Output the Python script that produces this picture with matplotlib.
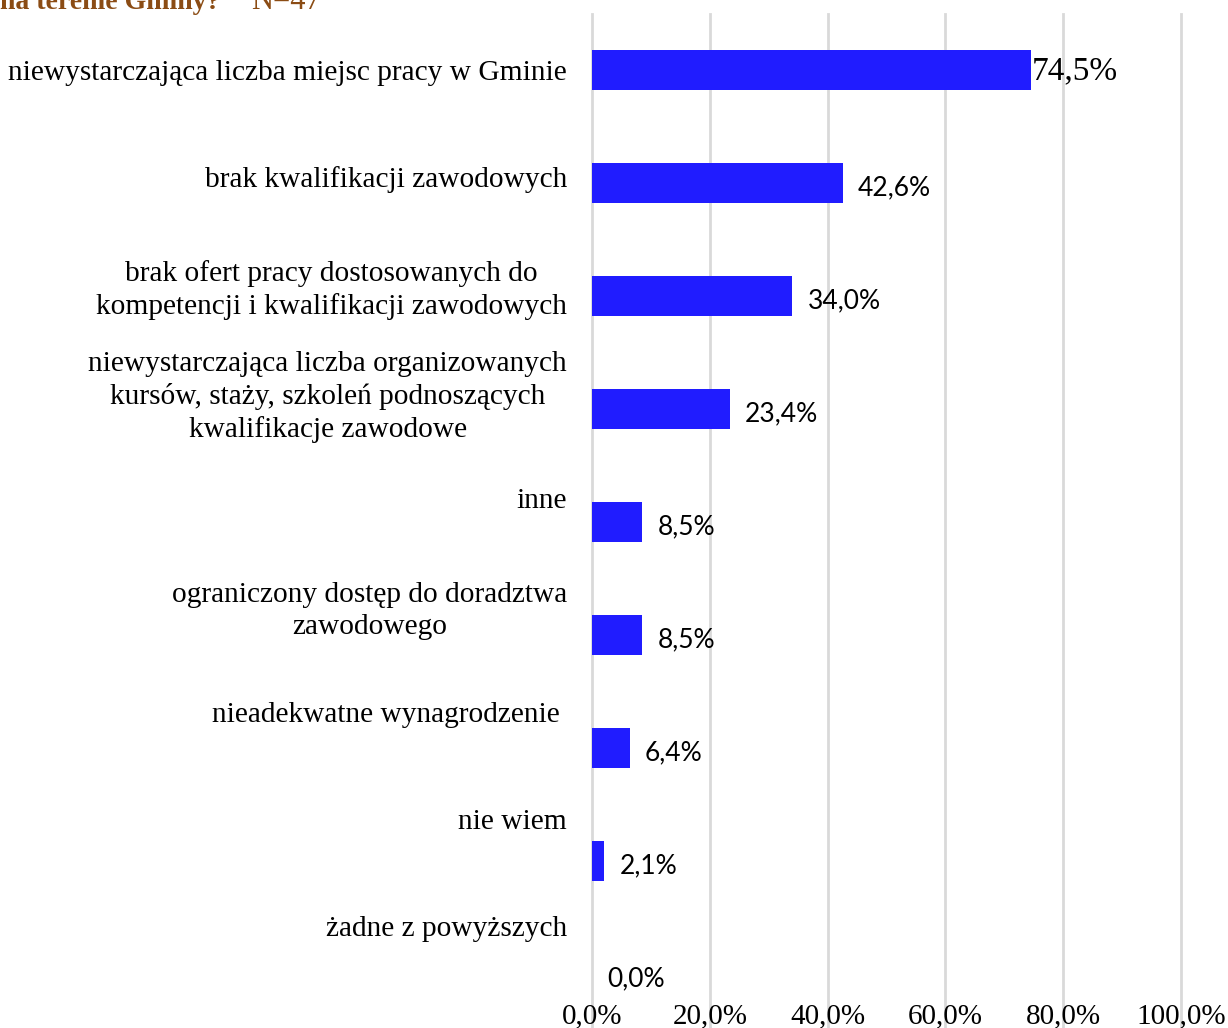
import matplotlib
matplotlib.use("Agg")
import matplotlib.pyplot as plt
import numpy as np

# dane z wykresu (N=47)
kategorie = [
    "niewystarczająca liczba miejsc pracy w Gminie",
    "brak kwalifikacji zawodowych",
    "brak ofert pracy dostosowanych do\nkompetencji i kwalifikacji zawodowych",
    "niewystarczająca liczba organizowanych\nkursów, staży, szkoleń podnoszących\nkwalifikacje zawodowe",
    "inne",
    "ograniczony dostęp do doradztwa\nzawodowego",
    "nieadekwatne wynagrodzenie ",
    "nie wiem",
    "żadne z powyższych",
]
wartosci = [74.5, 42.6, 34.0, 23.4, 8.5, 8.5, 6.4, 2.1, 0.0]
ticki_x = [0, 20, 40, 60, 80, 100]

KOLOR = "#201cff"
SERIF = "Liberation Serif"
SANS = "Lato"

fig = plt.figure(figsize=(12.28, 10.28), dpi=100)
ax = fig.add_axes([592 / 1228, 0, 589 / 1228, 1014 / 1028])

y = np.arange(len(kategorie))
ax.barh(y, wartosci, height=0.354, color=KOLOR, zorder=3)

ax.set_xlim(0, 100)
ax.set_ylim((1028 - 70) / 113, (14 - 70) / 113)

# siatka pionowa
ax.set_xticks(ticki_x)
ax.set_xticklabels([f"{t:.1f}%".replace(".", ",") for t in ticki_x],
                   fontfamily=SERIF, fontsize=21)
ax.grid(axis="x", color="#d9d9d9", linewidth=2, zorder=0)
for gl in ax.get_xgridlines():
    gl.set_clip_on(False)
ax.tick_params(axis="x", length=0, pad=-18)

# etykiety kategorii (lekko przesunięte jak w Excelu)
ax.set_yticks(y * 107 / 113)
ax.set_yticklabels(kategorie, fontfamily=SERIF, fontsize=21.2)
ax.tick_params(axis="y", length=0, pad=18)
for lab in ax.get_yticklabels():
    lab.set_multialignment("center")
    lab.set_linespacing(1.3)

for s in ax.spines.values():
    s.set_visible(False)

# etykiety wartości
for i, v in enumerate(wartosci):
    txt = f"{v:.1f}%".replace(".", ",")
    if i == 0:
        ax.annotate(txt, xy=(v, i), xytext=(1, -1), textcoords="offset points",
                    va="center", ha="left", fontfamily=SERIF, fontsize=24)
    else:
        ax.annotate(txt, xy=(v, i), xytext=(11, -3.5), textcoords="offset points",
                    va="center", ha="left", fontfamily=SANS, fontsize=19)

# tytuł (ucięty u góry)
fig.text(0, 1 - 9 / 1028, "na terenie Gminy?", fontfamily=SERIF, fontsize=20,
         fontweight="bold", color="#8b4c14", va="baseline", ha="left")
fig.text(251 / 1228, 1 - 9 / 1028, "N=47", fontfamily=SERIF, fontsize=22,
         color="#8b4c14", va="baseline", ha="left")

fig.savefig("out.png", dpi=100)
